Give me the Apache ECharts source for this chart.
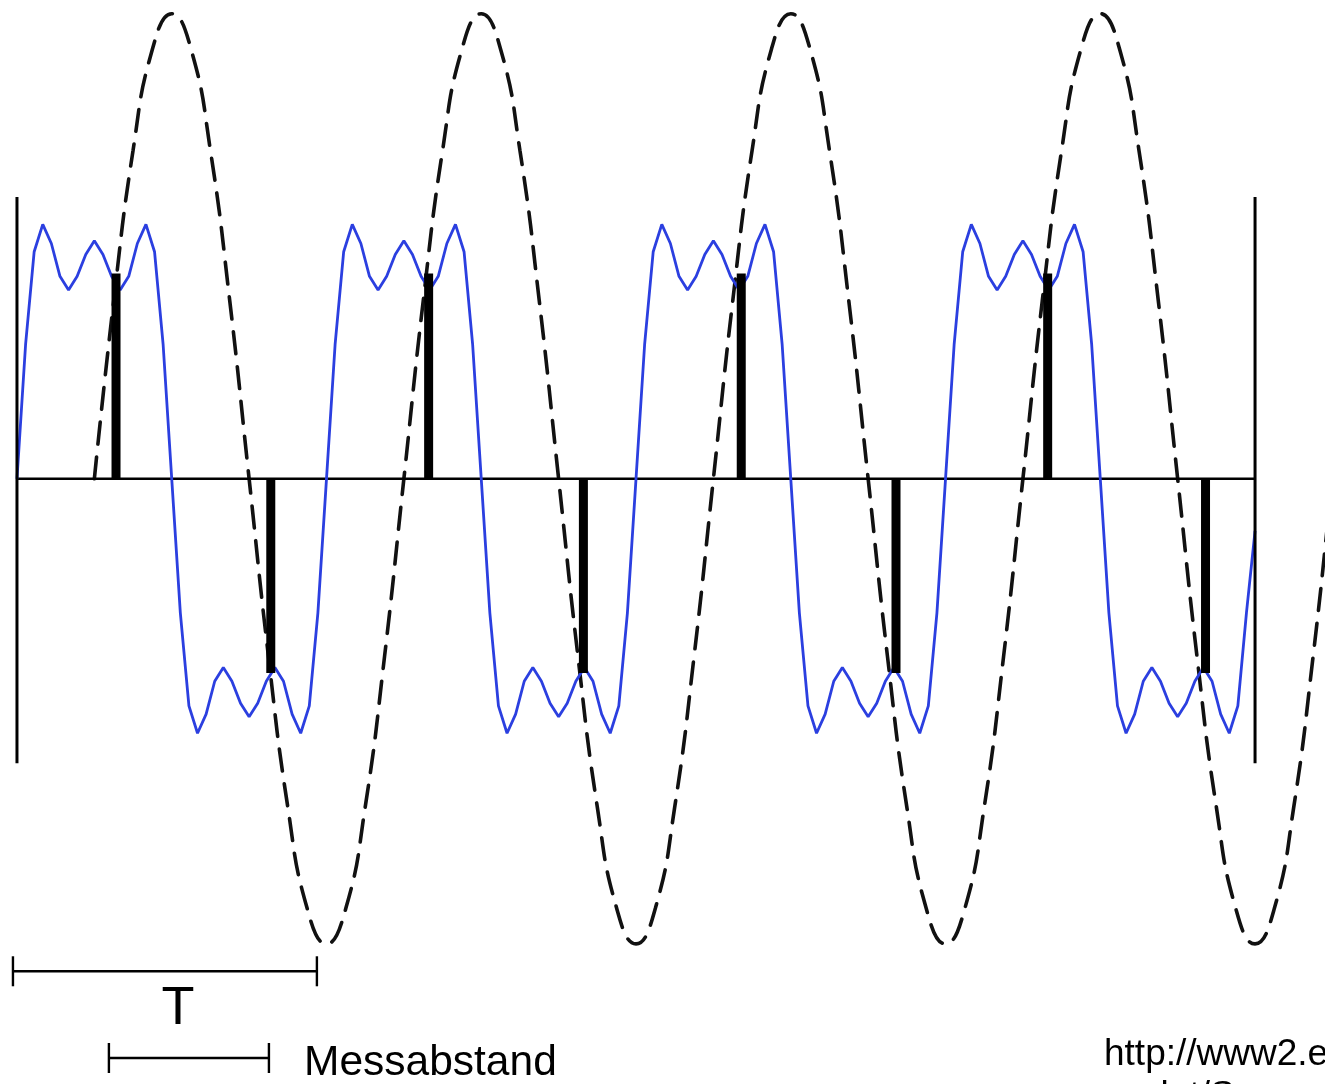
<!DOCTYPE html>
<html>
<head>
<meta charset="utf-8">
<script src="https://cdn.jsdelivr.net/npm/echarts@6/dist/echarts.min.js"></script>
<style>
html,body{margin:0;padding:0;background:#ffffff;}
#chart{width:1325px;height:1084px;}
</style>
</head>
<body>
<div id="chart"></div>
<script>
// ---------------- data (time in periods T, amplitude in arbitrary units) ----------------
// blue signal: sampled every 1/36 period, from t = 0 to t = 4
const blueStep = 1 / 36;
const blueValues = [
  0, 0.49, 0.83, 0.93, 0.86, 0.74, 0.69, 0.74, 0.82, 0.87, 0.82, 0.74, 0.69, 0.74, 0.86, 0.93, 0.83, 0.49,
  0, -0.49, -0.83, -0.93, -0.86, -0.74, -0.69, -0.74, -0.82, -0.87, -0.82, -0.74, -0.69, -0.74, -0.86, -0.93, -0.83, -0.49,
  0, 0.49, 0.83, 0.93, 0.86, 0.74, 0.69, 0.74, 0.82, 0.87, 0.82, 0.74, 0.69, 0.74, 0.86, 0.93, 0.83, 0.49,
  0, -0.49, -0.83, -0.93, -0.86, -0.74, -0.69, -0.74, -0.82, -0.87, -0.82, -0.74, -0.69, -0.74, -0.86, -0.93, -0.83, -0.49,
  0, 0.49, 0.83, 0.93, 0.86, 0.74, 0.69, 0.74, 0.82, 0.87, 0.82, 0.74, 0.69, 0.74, 0.86, 0.93, 0.83, 0.49,
  0, -0.49, -0.83, -0.93, -0.86, -0.74, -0.69, -0.74, -0.82, -0.87, -0.82, -0.74, -0.69, -0.74, -0.86, -0.93, -0.83, -0.49,
  0, 0.49, 0.83, 0.93, 0.86, 0.74, 0.69, 0.74, 0.82, 0.87, 0.82, 0.74, 0.69, 0.74, 0.86, 0.93, 0.83, 0.49,
  0, -0.49, -0.83, -0.93, -0.86, -0.74, -0.69, -0.74, -0.82, -0.87, -0.82, -0.74, -0.69, -0.74, -0.86, -0.93, -0.83, -0.49,
  -0.19
];

// dashed wave: sampled every 1/16 period, starting at t = 0.25
const dashStart = 0.25;
const dashStep = 1 / 16;
const dashValues = [
  0, 0.65, 1.20, 1.57, 1.70, 1.57, 1.20, 0.65, 0, -0.65, -1.20, -1.57, -1.70, -1.57, -1.20, -0.65,
  0, 0.65, 1.20, 1.57, 1.70, 1.57, 1.20, 0.65, 0, -0.65, -1.20, -1.57, -1.70, -1.57, -1.20, -0.65,
  0, 0.65, 1.20, 1.57, 1.70, 1.57, 1.20, 0.65, 0, -0.65, -1.20, -1.57, -1.70, -1.57, -1.20, -0.65,
  0, 0.65, 1.20, 1.57, 1.70, 1.57, 1.20, 0.65, 0, -0.65, -1.20, -1.57, -1.70, -1.57, -1.20, -0.65,
  0, 0.65
];

// sample (measurement) bars
const sampleTimes  = [0.32, 0.82, 1.33, 1.83, 2.34, 2.84, 3.33, 3.84];
const sampleValues = [0.75, -0.71, 0.75, -0.71, 0.75, -0.71, 0.75, -0.71];

// frame: zero line and the two vertical boundaries
const axisSpan   = [0, 4];
const frameTimes = [0, 4];
const frameLow   = -1.04;
const frameHigh  = 1.03;

// dimension brackets: [start, end, level]
const bracketT    = [-0.013, 0.969, -1.80];
const bracketMess = [0.297, 0.814, -2.117];

// texts
const labelT    = 'T';
const labelMess = 'Messabstand';
const urlLine1  = 'http://www2.e';
const urlLine2  = 'nlot/S';

// ---------------- build ----------------
const blueData = blueValues.map((v, i) => [i * blueStep, v]);
const dashData = dashValues.map((v, i) => [dashStart + i * dashStep, v]);
const sampleData = sampleTimes.map((t, i) => [t, sampleValues[i]]);

const FONT = '"Liberation Sans", Arial, Helvetica, sans-serif';

const chart = echarts.init(document.getElementById('chart'), null, {renderer: 'canvas'});
chart.setOption({
  animation: false,
  backgroundColor: '#ffffff',
  grid: {left: 1.5, right: 0, top: -1.5, bottom: 0, containLabel: false},
  xAxis: {
    type: 'value', min: -0.05, max: 4.226,
    axisLine: {show: false}, axisTick: {show: false}, axisLabel: {show: false}, splitLine: {show: false}
  },
  yAxis: {
    type: 'value', min: -2.212, max: 1.75,
    axisLine: {show: false}, axisTick: {show: false}, axisLabel: {show: false}, splitLine: {show: false}
  },
  series: [
    {
      name: 'dashed', type: 'line', data: dashData, smooth: true, symbol: 'none', clip: true,
      lineStyle: {color: '#111111', width: 3.6, type: [22, 13], cap: 'round'}, z: 2, silent: true
    },
    {
      name: 'zero', type: 'line', data: [[axisSpan[0], 0], [axisSpan[1], 0]], symbol: 'none',
      lineStyle: {color: '#000000', width: 2.6}, z: 3, silent: true
    },
    {
      name: 'signal', type: 'line', data: blueData, symbol: 'none',
      lineStyle: {color: '#2b3fe0', width: 2.8}, z: 4, silent: true
    },
    {
      name: 'samples', type: 'custom', data: sampleData, z: 5, silent: true,
      encode: {x: 0, y: 1},
      renderItem: function (params, api) {
        const p0 = api.coord([api.value(0), 0]);
        const p1 = api.coord([api.value(0), api.value(1)]);
        const w = 9;
        return {
          type: 'rect',
          shape: {x: p0[0] - w / 2, y: Math.min(p0[1], p1[1]), width: w, height: Math.abs(p1[1] - p0[1])},
          style: {fill: '#000000'}
        };
      }
    },
    {
      name: 'frame', type: 'custom', data: frameTimes.map(t => [t]), z: 6, silent: true,
      encode: {x: 0},
      renderItem: function (params, api) {
        const a = api.coord([api.value(0), frameHigh]);
        const b = api.coord([api.value(0), frameLow]);
        return {
          type: 'line', shape: {x1: a[0], y1: a[1], x2: b[0], y2: b[1]},
          style: {stroke: '#000000', lineWidth: 3}
        };
      }
    },
    {
      name: 'brackets', type: 'custom', data: [bracketT, bracketMess], z: 6, silent: true,
      encode: {x: [0, 1], y: 2},
      renderItem: function (params, api) {
        const a = api.coord([api.value(0), api.value(2)]);
        const b = api.coord([api.value(1), api.value(2)]);
        const h = 15;
        const st = {stroke: '#000000', lineWidth: 2.4};
        return {
          type: 'group',
          children: [
            {type: 'line', shape: {x1: a[0], y1: a[1], x2: b[0], y2: b[1]}, style: st},
            {type: 'line', shape: {x1: a[0], y1: a[1] - h, x2: a[0], y2: a[1] + h}, style: st},
            {type: 'line', shape: {x1: b[0], y1: b[1] - h, x2: b[0], y2: b[1] + h}, style: st}
          ]
        };
      }
    }
  ],
  graphic: [
    {type: 'text', x: 178, y: 1009, silent: true,
     style: {text: labelT, font: '54px ' + FONT, fill: '#000000', align: 'center', verticalAlign: 'middle'}},
    {type: 'text', x: 304, y: 1063, silent: true,
     style: {text: labelMess, font: '42.5px ' + FONT, fill: '#000000', align: 'left', verticalAlign: 'middle'}},
    {type: 'text', x: 1104, y: 1055, silent: true,
     style: {text: urlLine1, font: '37px ' + FONT, fill: '#000000', align: 'left', verticalAlign: 'middle'}},
    {type: 'text', x: 1140, y: 1097, silent: true,
     style: {text: urlLine2, font: '37px ' + FONT, fill: '#000000', align: 'left', verticalAlign: 'middle'}}
  ]
});
</script>
</body>
</html>
